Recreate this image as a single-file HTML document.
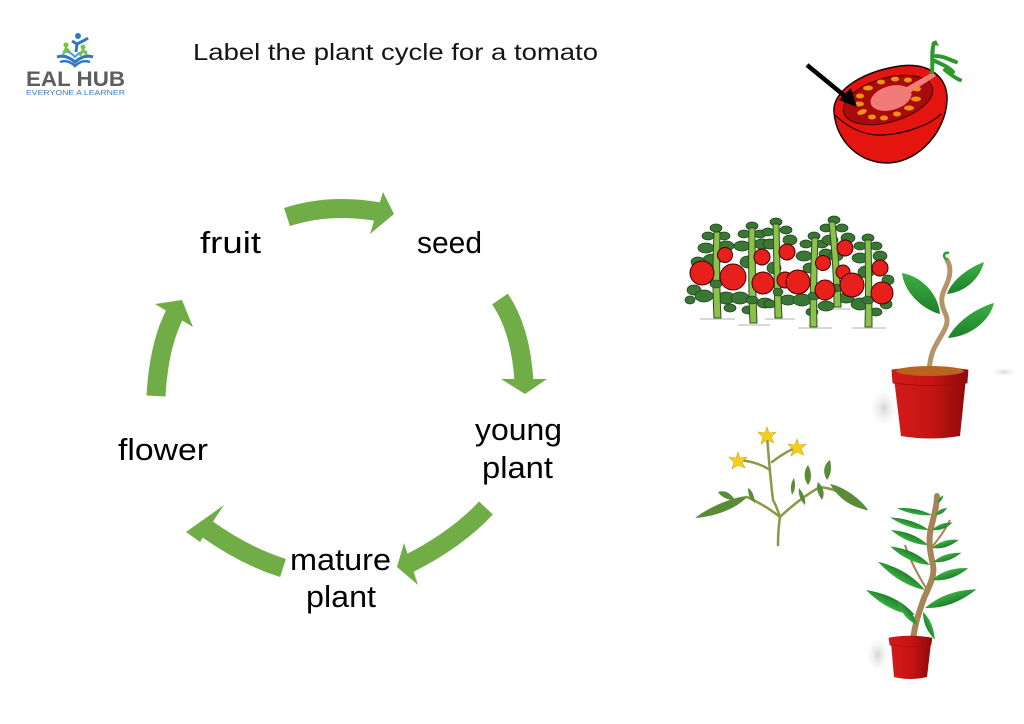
<!DOCTYPE html>
<html>
<head>
<meta charset="utf-8">
<style>
html,body{margin:0;padding:0;background:#fff;}
body{width:1024px;height:724px;overflow:hidden;}
svg{display:block;}
</style>
</head>
<body>
<svg width="1024" height="724" viewBox="0 0 1024 724" xmlns="http://www.w3.org/2000/svg">
<defs>
  <linearGradient id="potg" x1="0" y1="0" x2="1" y2="0">
    <stop offset="0" stop-color="#d41a1a"/>
    <stop offset="0.5" stop-color="#c81414"/>
    <stop offset="1" stop-color="#8e0a0a"/>
  </linearGradient>
  <linearGradient id="leafg" x1="0" y1="0" x2="0" y2="1">
    <stop offset="0" stop-color="#3cb043"/>
    <stop offset="1" stop-color="#1f7f2a"/>
  </linearGradient>
  <radialGradient id="shadowg" cx="0.5" cy="0.5" r="0.5">
    <stop offset="0" stop-color="#d4d4d4"/>
    <stop offset="1" stop-color="#ffffff" stop-opacity="0"/>
  </radialGradient>
  <path id="leaf" d="M0,0 Q0.45,-1 1,0 Q0.45,1 0,0Z"/>
</defs>

<rect width="1024" height="724" fill="#fff"/>

<!-- Logo -->
<g>
  <path d="M57,57 Q66,54 75,62 Q84,54 93,57" fill="none" stroke="#2f78c4" stroke-width="3"/>
  <path d="M60,62 Q68,59 75,66 Q82,59 90,62" fill="none" stroke="#2f78c4" stroke-width="2.5"/>
  <path d="M63,52 Q69,50 75,57 Q81,50 87,52" fill="none" stroke="#4aa3df" stroke-width="2"/>
  <circle cx="66" cy="45" r="2.5" fill="#7cc142"/>
  <path d="M63,55 L66,48 L70,52" fill="none" stroke="#7cc142" stroke-width="2.5"/>
  <circle cx="83" cy="47" r="2.5" fill="#7cc142"/>
  <path d="M80,56 L83,50 L87,55" fill="none" stroke="#7cc142" stroke-width="2.5"/>
  <circle cx="78" cy="36" r="3" fill="#2f78c4"/>
  <path d="M72,41 L77,44 L76,52 M77,44 L85,40 L88,38" fill="none" stroke="#2f78c4" stroke-width="3"/>
  <text x="26" y="86" font-family="Liberation Sans, sans-serif" font-size="21" font-weight="bold" fill="#5d5d5f" textLength="99" lengthAdjust="spacingAndGlyphs">EAL HUB</text>
  <text x="26" y="95" font-family="Liberation Sans, sans-serif" font-size="7.5" fill="#3f7cc4" textLength="99" lengthAdjust="spacingAndGlyphs">EVERYONE A LEARNER</text>
</g>

<!-- Title -->
<text x="193" y="60" font-family="Liberation Sans, sans-serif" font-size="23" fill="#151515" textLength="405" lengthAdjust="spacingAndGlyphs">Label the plant cycle for a tomato</text>

<!-- Cycle arrows -->
<g fill="none" stroke="#70ad47" stroke-width="19" stroke-linecap="butt">
  <path d="M287,217 Q330,203 380,212"/>
  <path d="M500,299 Q521,330 524,382"/>
  <path d="M486,508 Q456,540 408,564"/>
  <path d="M283,568 Q245,556 207,529"/>
  <path d="M156,396 Q159,343 176,312"/>
</g>
<g fill="#70ad47">
  <polygon points="383,192 394,214 370,234"/>
  <polygon points="501,379 547,379 525,394"/>
  <polygon points="404,543 418,585 397,567"/>
  <polygon points="224,505 186,532 200,542 214,520"/>
  <polygon points="155,304 182,300 193,327"/>
</g>

<!-- Cycle labels -->
<g font-family="Liberation Sans, sans-serif" font-size="31" fill="#000">
  <text x="200" y="253" textLength="61" lengthAdjust="spacingAndGlyphs">fruit</text>
  <text x="417" y="253" textLength="65" lengthAdjust="spacingAndGlyphs">seed</text>
  <text x="475" y="440" textLength="87" lengthAdjust="spacingAndGlyphs">young</text>
  <text x="482" y="478" textLength="71" lengthAdjust="spacingAndGlyphs">plant</text>
  <text x="118" y="460" textLength="90" lengthAdjust="spacingAndGlyphs">flower</text>
  <text x="290" y="570" textLength="101" lengthAdjust="spacingAndGlyphs">mature</text>
  <text x="306" y="607" textLength="70" lengthAdjust="spacingAndGlyphs">plant</text>
</g>

<!-- Tomato half -->
<g>
  <path d="M834,112 C832,92 860,72 900,66 C930,62 948,78 947,100 C946,130 920,162 888,163 C858,163 836,140 834,112Z" fill="#e4140e" stroke="#1a0000" stroke-width="1.5"/>
  <path d="M835,115 C848,128 866,136 882,135 C905,134 930,125 941,114" fill="none" stroke="#1a0000" stroke-width="1.2"/>
  <ellipse cx="888" cy="100" rx="46" ry="22" transform="rotate(-16 888 100)" fill="#a80c0a" stroke="#400" stroke-width="1"/>
  <ellipse cx="891" cy="98" rx="21" ry="12" transform="rotate(-16 891 98)" fill="#f27a78"/>
  <path d="M898,92 L933,72 L936,76 L902,98Z" fill="#f27a78"/>
  <g fill="#f0901c">
    <ellipse cx="859" cy="104" rx="5" ry="2.5"/>
    <ellipse cx="862" cy="112" rx="5" ry="2.5" transform="rotate(-20 862 112)"/>
    <ellipse cx="872" cy="117" rx="4" ry="2.5"/>
    <ellipse cx="884" cy="118" rx="4" ry="2.5"/>
    <ellipse cx="897" cy="114" rx="4" ry="2.5"/>
    <ellipse cx="909" cy="108" rx="5" ry="2.5"/>
    <ellipse cx="916" cy="99" rx="5" ry="2.5"/>
    <ellipse cx="917" cy="89" rx="4" ry="2.5"/>
    <ellipse cx="908" cy="80" rx="4" ry="2.5"/>
    <ellipse cx="895" cy="79" rx="4" ry="2.5"/>
    <ellipse cx="881" cy="82" rx="4" ry="2.5"/>
    <ellipse cx="868" cy="88" rx="5" ry="2.5"/>
    <ellipse cx="860" cy="96" rx="4" ry="2.5"/>
  </g>
  <path d="M932,72 C933,62 931,52 934,43 M933,60 C940,64 948,66 953,72 M936,56 C944,56 950,60 956,62 M945,70 C950,74 955,78 960,80" fill="none" stroke="#2c9a2a" stroke-width="4" stroke-linecap="round"/>
  <path d="M931,44 L936,40 L939,46Z" fill="#2c9a2a"/>
  <line x1="807" y1="65" x2="846" y2="97" stroke="#000" stroke-width="4.5"/>
  <polygon points="857,107 839,100 851,88" fill="#000"/>
</g>

<!-- Row of tomato plants -->
<g>
  <g stroke="#d8d8d8" stroke-width="2">
    <line x1="700" y1="319" x2="735" y2="319"/>
    <line x1="738" y1="325" x2="770" y2="325"/>
    <line x1="765" y1="319" x2="795" y2="319"/>
    <line x1="798" y1="328" x2="832" y2="328"/>
    <line x1="825" y1="309" x2="850" y2="309"/>
    <line x1="852" y1="328" x2="886" y2="328"/>
  </g>
  <g fill="#3a7634" stroke="#1f3f1c" stroke-width="0.7">
    <!-- plant 1 -->
    <ellipse cx="716" cy="228" rx="6" ry="4"/><ellipse cx="708" cy="236" rx="6" ry="4"/><ellipse cx="724" cy="236" rx="6" ry="4"/>
    <ellipse cx="706" cy="248" rx="8" ry="5"/><ellipse cx="726" cy="246" rx="8" ry="5"/><ellipse cx="712" cy="260" rx="9" ry="6"/>
    <ellipse cx="698" cy="262" rx="7" ry="5"/><ellipse cx="694" cy="290" rx="7" ry="5"/><ellipse cx="704" cy="296" rx="9" ry="6"/>
    <ellipse cx="726" cy="298" rx="9" ry="6"/><ellipse cx="690" cy="300" rx="5" ry="4"/><ellipse cx="730" cy="308" rx="6" ry="4"/>
    <!-- plant 2 -->
    <ellipse cx="752" cy="226" rx="6" ry="4"/><ellipse cx="744" cy="234" rx="6" ry="4"/><ellipse cx="760" cy="234" rx="6" ry="4"/>
    <ellipse cx="742" cy="246" rx="8" ry="5"/><ellipse cx="762" cy="244" rx="8" ry="5"/><ellipse cx="748" cy="262" rx="8" ry="6"/>
    <ellipse cx="740" cy="298" rx="9" ry="6"/><ellipse cx="765" cy="303" rx="8" ry="5"/><ellipse cx="748" cy="310" rx="6" ry="4"/>
    <!-- plant 3 -->
    <ellipse cx="776" cy="222" rx="6" ry="4"/><ellipse cx="768" cy="232" rx="6" ry="4"/><ellipse cx="786" cy="230" rx="6" ry="4"/>
    <ellipse cx="770" cy="244" rx="7" ry="5"/><ellipse cx="790" cy="240" rx="7" ry="5"/><ellipse cx="774" cy="268" rx="7" ry="6"/>
    <ellipse cx="788" cy="300" rx="8" ry="5"/><ellipse cx="770" cy="304" rx="6" ry="4"/>
    <!-- plant 4 -->
    <ellipse cx="814" cy="236" rx="6" ry="4"/><ellipse cx="806" cy="244" rx="6" ry="4"/><ellipse cx="822" cy="244" rx="6" ry="4"/>
    <ellipse cx="804" cy="256" rx="8" ry="5"/><ellipse cx="826" cy="254" rx="7" ry="5"/><ellipse cx="810" cy="268" rx="7" ry="5"/>
    <ellipse cx="802" cy="300" rx="9" ry="6"/><ellipse cx="826" cy="306" rx="8" ry="5"/><ellipse cx="812" cy="312" rx="6" ry="4"/>
    <!-- plant 5 -->
    <ellipse cx="834" cy="220" rx="6" ry="4"/><ellipse cx="826" cy="228" rx="6" ry="4"/><ellipse cx="842" cy="228" rx="6" ry="4"/>
    <ellipse cx="830" cy="240" rx="8" ry="5"/><ellipse cx="848" cy="238" rx="7" ry="5"/><ellipse cx="836" cy="256" rx="7" ry="5"/>
    <ellipse cx="846" cy="298" rx="8" ry="5"/>
    <!-- plant 6 -->
    <ellipse cx="868" cy="238" rx="6" ry="4"/><ellipse cx="860" cy="246" rx="6" ry="4"/><ellipse cx="876" cy="246" rx="6" ry="4"/>
    <ellipse cx="860" cy="258" rx="8" ry="5"/><ellipse cx="880" cy="256" rx="7" ry="5"/><ellipse cx="866" cy="272" rx="8" ry="6"/>
    <ellipse cx="888" cy="280" rx="6" ry="5"/><ellipse cx="860" cy="304" rx="9" ry="6"/><ellipse cx="886" cy="304" rx="6" ry="5"/>
    <ellipse cx="876" cy="312" rx="6" ry="4"/>
  </g>
  <g fill="#8cc24c" stroke="#2b4a1e" stroke-width="1">
    <path d="M714,232 Q712,280 714,318 L721,318 Q719,280 720,232Z"/>
    <path d="M749,228 Q748,280 750,323 L757,323 Q755,280 755,228Z"/>
    <path d="M773,224 Q774,280 775,318 L782,318 Q780,280 779,224Z"/>
    <path d="M812,238 Q810,285 810,327 L817,327 Q816,285 818,238Z"/>
    <path d="M829,222 Q834,270 834,307 L841,307 Q840,270 835,222Z"/>
    <path d="M865,240 Q866,290 865,327 L872,327 Q872,290 871,240Z"/>
  </g>
  <g fill="#3a7634" stroke="#1f3f1c" stroke-width="0.6">
    <ellipse cx="716" cy="284" rx="6" ry="4"/><ellipse cx="752" cy="300" rx="6" ry="4"/><ellipse cx="778" cy="292" rx="5" ry="4"/>
    <ellipse cx="814" cy="296" rx="6" ry="4"/><ellipse cx="836" cy="288" rx="5" ry="4"/><ellipse cx="868" cy="300" rx="6" ry="4"/>
  </g>
  <g fill="#e8201c" stroke="#3a0000" stroke-width="1">
    <circle cx="725" cy="255" r="7.5"/><circle cx="762" cy="257" r="8"/><circle cx="787" cy="252" r="8"/>
    <circle cx="823" cy="263" r="7.5"/><circle cx="845" cy="248" r="8"/><circle cx="843" cy="272" r="7"/>
    <circle cx="880" cy="268" r="8"/><circle cx="785" cy="280" r="8"/>
    <circle cx="702" cy="273" r="12"/><circle cx="733" cy="277" r="13"/><circle cx="763" cy="283" r="11"/>
    <circle cx="798" cy="282" r="12"/><circle cx="825" cy="290" r="10"/><circle cx="852" cy="285" r="12"/>
    <circle cx="882" cy="293" r="11"/>
  </g>
</g>

<!-- Young plant in pot -->
<g>
  <ellipse cx="884" cy="408" rx="16" ry="22" fill="url(#shadowg)"/>
  <ellipse cx="1004" cy="372" rx="14" ry="5" fill="url(#shadowg)"/>
  <path d="M929,372 C930,355 934,348 937,343 C942,333 950,325 946,315 C941,305 940,298 945,288 C950,278 952,268 947,260" fill="none" stroke="#b49468" stroke-width="5" stroke-linecap="round"/>
  <path d="M947,260 C942,256 944,252 949,253" fill="none" stroke="#2e9e3a" stroke-width="2.5"/>
  <g fill="url(#leafg)">
    <path d="M940,314 C930,312 905,298 902,273 C920,276 938,292 940,314Z"/>
    <path d="M947,294 C952,280 968,268 984,262 C980,278 966,292 947,294Z"/>
    <path d="M948,338 C956,322 976,308 994,303 C990,320 972,336 948,338Z"/>
  </g>
  <path d="M894,378 L966,378 L960,436 Q930,441 901,436Z" fill="url(#potg)"/>
  <path d="M892,370 Q930,364 968,370 L967,383 Q930,388 893,383Z" fill="url(#potg)" stroke="#a00c0c" stroke-width="0.8"/>
  <ellipse cx="930" cy="371" rx="34" ry="5" fill="#b8641e"/>
</g>

<!-- Flowering branch -->
<g>
  <g fill="none" stroke="#8a9848" stroke-width="2.5" stroke-linecap="round">
    <path d="M778,545 Q778,530 780,517 Q776,505 773,500 Q770,475 768,448"/>
    <path d="M780,517 Q765,505 747,497 Q725,500 700,516"/>
    <path d="M780,517 Q800,498 820,487 Q845,490 866,509"/>
    <path d="M770,470 Q758,462 740,460"/>
    <path d="M772,462 Q785,452 797,447"/>
    <path d="M768,448 L767,436"/>
  </g>
  <g fill="#5a8c38">
    <path d="M747,497 C735,497 712,505 695,518 C712,517 735,510 747,497Z"/>
    <path d="M735,500 C730,492 724,490 718,492 C722,498 728,500 735,500Z"/>
    <path d="M755,503 C754,495 752,490 748,488 C748,495 750,500 755,503Z"/>
    <path d="M830,484 C842,486 860,498 868,510 C852,508 838,498 830,484Z"/>
    <path d="M808,485 C803,478 804,470 808,465 C812,472 812,480 808,485Z"/>
    <path d="M827,480 C822,472 824,464 830,460 C832,468 831,475 827,480Z"/>
    <path d="M822,500 C817,493 816,487 818,482 C824,488 825,494 822,500Z"/>
    <path d="M805,505 C800,500 798,494 799,488 C804,494 806,500 805,505Z"/>
    <path d="M792,495 C790,488 791,482 794,478 C796,485 795,491 792,495Z"/>
  </g>
  <g fill="#f2cf1e" stroke="#d4a810" stroke-width="0.6">
    <path d="M767,427 L769,433 L776,432 L771,437 L774,443 L767,440 L761,444 L763,437 L758,432 L765,433Z"/>
    <path d="M797,439 L799,445 L806,444 L801,449 L804,455 L797,452 L791,456 L793,449 L788,444 L795,445Z"/>
    <path d="M738,452 L740,458 L747,457 L742,462 L745,468 L738,465 L732,469 L734,462 L729,457 L736,458Z"/>
  </g>
</g>

<!-- Mature plant in pot -->
<g>
  <ellipse cx="878" cy="655" rx="14" ry="20" fill="url(#shadowg)"/>
  <path d="M913,642 C914,625 920,610 924,598 C930,585 935,575 933,565 C930,552 928,540 931,528 C934,515 937,506 937,496" fill="none" stroke="#a68458" stroke-width="6" stroke-linecap="round"/>
  <path d="M926,588 C918,575 910,560 905,545 M931,548 C938,540 945,530 950,520" fill="none" stroke="#a68458" stroke-width="2"/>
  <g fill="url(#leafg)">
    <use href="#leaf" transform="translate(915,615) rotate(-153) scale(55,10)"/>
    <use href="#leaf" transform="translate(925,590) rotate(-149) scale(55,9)"/>
    <use href="#leaf" transform="translate(930,565) rotate(-155) scale(44,8)"/>
    <use href="#leaf" transform="translate(928,545) rotate(-158) scale(40,7)"/>
    <use href="#leaf" transform="translate(929,530) rotate(-162) scale(41,6)"/>
    <use href="#leaf" transform="translate(932,515) rotate(-169) scale(36,5)"/>
    <use href="#leaf" transform="translate(917,625) rotate(-129) scale(32,7)"/>
    <use href="#leaf" transform="translate(925,608) rotate(-20) scale(55,10)"/>
    <use href="#leaf" transform="translate(932,580) rotate(-18) scale(38,8)"/>
    <use href="#leaf" transform="translate(933,562) rotate(-18) scale(30,6)"/>
    <use href="#leaf" transform="translate(932,548) rotate(-17) scale(28,6)"/>
    <use href="#leaf" transform="translate(932,530) rotate(-20) scale(22,5)"/>
    <use href="#leaf" transform="translate(935,515) rotate(-30) scale(14,4)"/>
    <use href="#leaf" transform="translate(937,503) rotate(-50) scale(10,3)"/>
    <use href="#leaf" transform="translate(923,612) rotate(67) scale(30,6)"/>
  </g>
  <path d="M891,643 L931,643 L927,677 Q910,681 894,677Z" fill="url(#potg)"/>
  <path d="M889,638 Q910,634 932,638 L931,645 Q910,648 890,645Z" fill="url(#potg)" stroke="#a00c0c" stroke-width="0.6"/>
</g>
</svg>
</body>
</html>
